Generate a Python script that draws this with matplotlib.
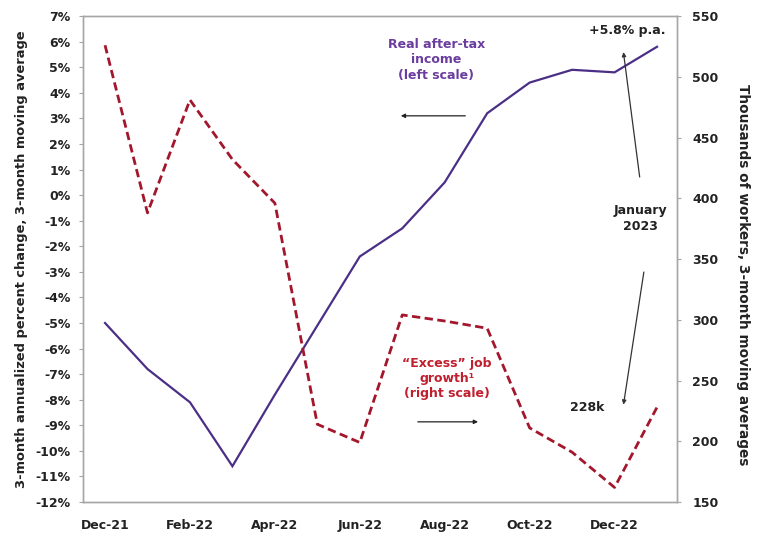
import matplotlib
matplotlib.use("Agg")
import matplotlib.pyplot as plt

months = ["Dec-21", "Jan-22", "Feb-22", "Mar-22", "Apr-22", "May-22", "Jun-22",
          "Jul-22", "Aug-22", "Sep-22", "Oct-22", "Nov-22", "Dec-22", "Jan-23"]
income_pct = [-5.0, -6.8, -8.1, -10.6, -7.8, -5.1, -2.4,
              -1.3, 0.5, 3.2, 4.4, 4.9, 4.8, 5.8]
excess_jobs_k = [526, 388, 481, 432, 396, 214, 199,
                 304, 299, 293, 211, 191, 162, 228]
left_ticks = list(range(-12, 8))
right_ticks = list(range(150, 551, 50))

PURPLE_LINE = "#4b2f86"
PURPLE_TEXT = "#6a3d9e"
RED_LINE = "#a3172c"
RED_TEXT = "#c0202e"
GREY = "#a6a6a6"

plt.rcParams["font.family"] = ["DejaVu Sans"]
plt.rcParams["font.weight"] = "bold"

fig = plt.figure(figsize=(7.61, 5.36), dpi=100)
ax = fig.add_axes([0.109, 0.0634, 0.7806, 0.9066])
ax2 = ax.twinx()

x = list(range(len(months)))
ax.plot(x, income_pct, color=PURPLE_LINE, lw=1.6, solid_joinstyle="miter", zorder=3)
ax2.plot(x, excess_jobs_k, color=RED_LINE, lw=2.0, dashes=(3.0, 1.6), zorder=3)

ax.set_xlim(-0.52, 13.47)
ax.set_ylim(-12, 7)
ax2.set_ylim(150, 550)

ax.set_xticks(x[::2])
ax.set_xticklabels(months[::2])
ax.set_yticks(left_ticks)
ax.set_yticklabels([f"{t}%" for t in left_ticks])
ax2.set_yticks(right_ticks)
ax2.set_yticklabels([str(t) for t in right_ticks])

for a in (ax, ax2):
    for s in a.spines.values():
        s.set_color(GREY)
        s.set_linewidth(1.0)
ax.tick_params(axis="x", length=0, pad=12, labelsize=9, colors="#222222")
ax.tick_params(axis="y", length=3, width=0.8, color=GREY, pad=6,
               labelsize=9, labelcolor="#222222")
ax2.tick_params(axis="y", length=3, width=0.8, color=GREY, pad=8,
                labelsize=9, labelcolor="#222222")

ax.set_ylabel("3-month annualized percent change, 3-month moving average",
              fontsize=9.4, fontweight="bold", color="#222222", labelpad=5)
ax2.set_ylabel("Thousands of workers, 3-month moving averages",
               fontsize=9.8, fontweight="bold", color="#222222",
               rotation=270, labelpad=23)
ax2.yaxis.label.set_y(0.467)

# Series labels with direction arrows
ax.text(7.8, 5.3, "Real after-tax\nincome\n(left scale)", color=PURPLE_TEXT,
        fontsize=9, fontweight="bold", ha="center", va="center", linespacing=1.25)
ax.annotate("", xy=(6.9, 3.1), xytext=(8.55, 3.1),
            arrowprops=dict(arrowstyle="-|>", color="#222222", lw=0.9,
                            mutation_scale=6))
ax2.text(8.05, 252, "\u201cExcess\u201d job\ngrowth\u00b9\n(right scale)", color=RED_TEXT,
         fontsize=9, fontweight="bold", ha="center", va="center", linespacing=1.2)
ax2.annotate("", xy=(8.85, 216), xytext=(7.3, 216),
             arrowprops=dict(arrowstyle="-|>", color="#222222", lw=0.9,
                             mutation_scale=6))

# January 2023 call-outs
ax.text(12.3, 6.45, "+5.8% p.a.", fontsize=9, fontweight="bold", color="#222222",
        ha="center", va="center")
ax.text(12.6, -0.9, "January\n2023", fontsize=9, fontweight="bold", color="#222222",
        ha="center", va="center", linespacing=1.3)
ax.annotate("", xy=(12.2, 5.7), xytext=(12.6, 0.6),
            arrowprops=dict(arrowstyle="-|>", color="#333333", lw=0.9,
                            mutation_scale=6))
ax.annotate("", xy=(12.2, -8.3), xytext=(12.7, -2.9),
            arrowprops=dict(arrowstyle="-|>", color="#333333", lw=0.9,
                            mutation_scale=6))
ax2.text(11.35, 228, "228k", fontsize=9, fontweight="bold", color="#222222",
         ha="center", va="center")

fig.savefig("out.png", dpi=100)
